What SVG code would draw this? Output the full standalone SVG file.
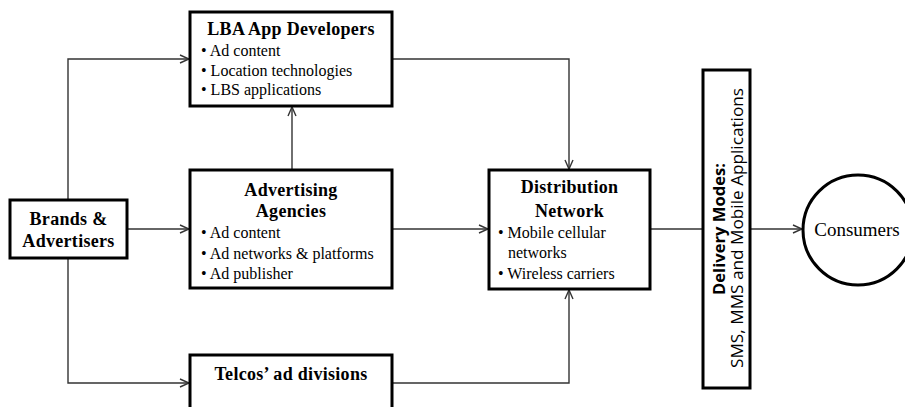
<svg xmlns="http://www.w3.org/2000/svg" width="905" height="407" viewBox="0 0 905 407">
<style>
.box{fill:#fff;stroke:#000;stroke-width:3}
.con{fill:none;stroke:#333;stroke-width:1.4}
.t{font-family:"Liberation Serif","Times New Roman",serif;font-weight:bold;font-size:18px;fill:#000;text-anchor:middle;letter-spacing:0.3px}
.b{font-family:"Liberation Serif","Times New Roman",serif;font-size:16px;fill:#000}
.s{font-family:"Open Sans","Liberation Sans",sans-serif;font-size:16px;fill:#000;text-anchor:middle}
</style>
<defs>
<marker id="arr" viewBox="0 0 10 10" refX="10" refY="5" markerWidth="10" markerHeight="10" markerUnits="userSpaceOnUse" orient="auto">
<path d="M1,1 L10,5 L1,9" fill="none" stroke="#333" stroke-width="1.4"/>
</marker>
</defs>
<rect width="905" height="407" fill="#fff"/>
<g id="connectors">
<polyline class="con" points="68,200 68,59 189,59" marker-end="url(#arr)"/>
<polyline class="con" points="68,258 68,383 189,383" marker-end="url(#arr)"/>
<line class="con" x1="127" y1="229" x2="189" y2="229" marker-end="url(#arr)"/>
<line class="con" x1="292" y1="170" x2="292" y2="107" marker-end="url(#arr)"/>
<polyline class="con" points="392,59 569,59 569,169" marker-end="url(#arr)"/>
<line class="con" x1="392" y1="229" x2="488" y2="229" marker-end="url(#arr)"/>
<polyline class="con" points="392,383 569,383 569,290" marker-end="url(#arr)"/>
<line class="con" x1="650" y1="229" x2="703" y2="229"/>
<line class="con" x1="750" y1="229" x2="802" y2="229" marker-end="url(#arr)"/>
</g>
<g id="brands">
<rect class="box" x="10" y="200" width="117" height="58"/>
<text class="t" x="68.5" y="225">Brands &amp;</text>
<text class="t" x="68.5" y="247">Advertisers</text>
</g>
<g id="lba">
<rect class="box" x="190" y="12" width="202" height="94"/>
<text class="t" x="291" y="35">LBA App Developers</text>
<text class="b" x="201" y="56">• Ad content</text>
<text class="b" x="201" y="76">• Location technologies</text>
<text class="b" x="201" y="95">• LBS applications</text>
</g>
<g id="agencies">
<rect class="box" x="190" y="170" width="202" height="118"/>
<text class="t" x="291" y="196">Advertising</text>
<text class="t" x="291" y="217">Agencies</text>
<text class="b" x="201" y="238">• Ad content</text>
<text class="b" x="201" y="259">• Ad networks &amp; platforms</text>
<text class="b" x="201" y="279">• Ad publisher</text>
</g>
<g id="telcos">
<rect class="box" x="190" y="355" width="202" height="70"/>
<text class="t" x="291" y="380">Telcos’ ad divisions</text>
</g>
<g id="distribution">
<rect class="box" x="489" y="170" width="161" height="119"/>
<text class="t" x="569.5" y="193">Distribution</text>
<text class="t" x="569.5" y="217">Network</text>
<text class="b" x="498" y="238">• Mobile cellular</text>
<text class="b" x="508" y="258">networks</text>
<text class="b" x="498" y="279">• Wireless carriers</text>
</g>
<g id="delivery">
<rect class="box" x="703" y="70" width="47" height="318"/>
<text class="s" transform="translate(725,229) rotate(-90)" font-weight="bold" textLength="132" lengthAdjust="spacingAndGlyphs">Delivery Modes:</text>
<text class="s" transform="translate(742.5,228) rotate(-90)" textLength="280" lengthAdjust="spacingAndGlyphs">SMS, MMS and Mobile Applications</text>
</g>
<g id="consumers">
<circle cx="858" cy="230" r="55" fill="#fff" stroke="#000" stroke-width="3"/>
<text x="857" y="236" font-family="Liberation Serif, Times New Roman, serif" font-size="19" text-anchor="middle">Consumers</text>
</g>
</svg>
